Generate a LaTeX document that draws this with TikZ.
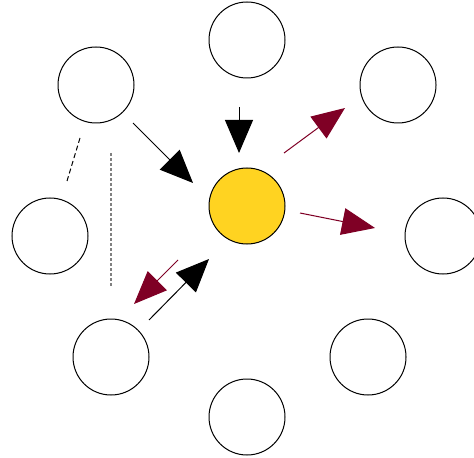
\documentclass[tikz,border=0pt]{standalone}
\usepackage{tikz}
\usetikzlibrary{arrows.meta}

\definecolor{sunny}{HTML}{FFD321}
\definecolor{wine}{HTML}{7F0025}

\tikzset{
    planet/.style={circle, draw, line width=0.5pt, minimum size=38pt, inner sep=0pt},
    pull/.style={line width=0.5pt, -{Triangle[length=16.5pt, width=14pt]}},
    push/.style={wine, line width=0.5pt, -{Triangle[length=16.5pt, width=13.5pt]}},
}

\begin{document}
\begin{tikzpicture}[x=0.5pt, y=-0.5pt]
    \useasboundingbox (0, 0) rectangle (474, 458);
    \node[planet, fill=sunny] (sun) at (247, 206) {};
    \foreach \name/\x/\y in {n/247/40, ne/398/85, e/443/236, se/368/357,
                             s/247/417, sw/111/357, w/50/236, nw/96/85} {
        \node[planet] (\name) at (\x, \y) {};
    }
    % arrows
    \coordinate (a1) at (133, 123); \coordinate (b1) at (193, 183);
    \coordinate (a2) at (239, 107); \coordinate (b2) at (239, 153);
    \coordinate (a3) at (284, 153); \coordinate (b3) at (345, 108);
    \coordinate (a4) at (300, 213); \coordinate (b4) at (375, 228);
    \coordinate (a5) at (149, 320); \coordinate (b5) at (209, 259);
    \coordinate (a6) at (178, 260); \coordinate (b6) at (134, 304);
    \draw[pull] (a1) -- (b1);
    \draw[pull] (a2) -- (b2);
    \draw[pull] (a5) -- (b5);
    \draw[push] (a3) -- (b3);
    \draw[push] (a4) -- (b4);
    \draw[push] (a6) -- (b6);
    % dashed lines
    \coordinate (d1) at (80, 138); \coordinate (e1) at (67, 181);
    \coordinate (d2) at (111, 153); \coordinate (e2) at (111, 287);
    \draw[line width=0.5pt, dash pattern=on 2.5pt off 1.5pt] (d1) -- (e1);
    \draw[gray, line width=0.7pt, dash pattern=on 1.5pt off 1pt] (d2) -- (e2);
\end{tikzpicture}
\end{document}
